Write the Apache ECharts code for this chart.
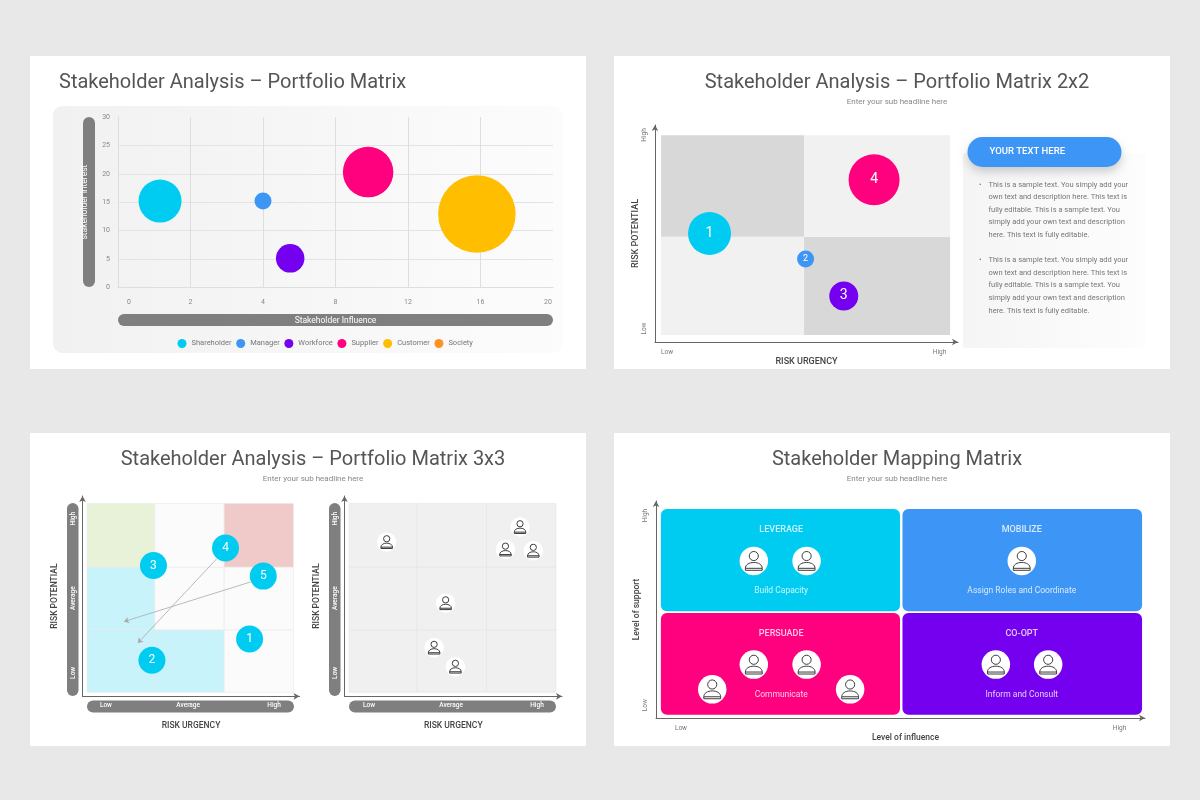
<!DOCTYPE html>
<html>
<head>
<meta charset="utf-8">
<title>Stakeholder Analysis</title>
<style>
    html, body { margin: 0; padding: 0; background: #e9e8e9; }
    #main { width: 1200px; height: 800px; }
</style>
<script src="https://cdn.jsdelivr.net/npm/echarts@6/dist/echarts.min.js"></script>
</head>
<body>
<div id="main"></div>
<script>
// panel 1 - portfolio bubbles
var p1Names = ['Shareholder', 'Manager', 'Workforce', 'Supplier', 'Customer', 'Society'];
var p1Influence = [1.16, 4, 5.5, 9.8, 15.8];
var p1Interest = [15.2, 15.2, 5.1, 20.3, 12.9];
var p1Weight = [8.6, 3.4, 5.7, 10.1, 15.5];
var p1XTicks = [0, 2, 4, 8, 12, 16, 20];
var p1YTicks = [0, 5, 10, 15, 20, 25, 30];

// panel 2 - 2x2 matrix
var p2Ids = ['1', '2', '3', '4'];
var p2Urgency = [18, 49.7, 62.3, 72.3];
var p2Potential = [50, 38.2, 21.2, 74.8];
var p2Weight = [8.6, 3.4, 5.8, 10.2];
var p2XEdges = [2, 49.2, 97.4];
var p2YEdges = [3.2, 48.5, 95.3];
var p2Bullets = [
    'This is a sample text. You simply add your',
    'own text and description here. This text is',
    'fully editable. This is a sample text. You',
    'simply add your own text and description',
    'here. This text is fully editable.'
];

// panel 3 - 3x3 matrices
var p3Ids = ['1', '2', '3', '4', '5'];
var p3Urgency = [77, 32, 32.7, 65.9, 83.3];
var p3Potential = [28.6, 18, 65.3, 74, 60];
var p3XEdges = [2.1, 33.3, 65.3, 97.2];
var p3YEdges = [2, 33.2, 64.5, 96.2];
var p3ArrowFrom = [[61.8, 68.6], [77.5, 57.1]];
var p3ArrowTo = [[25.5, 26.6], [19.1, 37.3]];
var p3PeopleX = [19.4, 80.7, 74, 86.8, 46.5, 41.2, 51];
var p3PeopleY = [77, 84.5, 73.3, 72.7, 46.5, 24.3, 14.8];
var p3Levels = ['Low', 'Average', 'High'];

// panel 4 - mapping matrix
var p4Titles = ['LEVERAGE', 'MOBILIZE', 'PERSUADE', 'CO-OPT'];
var p4Subs = ['Build Capacity', 'Assign Roles and Coordinate', 'Communicate', 'Inform and Consult'];
var p4TileX = [[1, 49.9], [50.4, 99.4], [1, 49.9], [50.4, 99.4]];
var p4TileY = [[49.2, 96.3], [49.2, 96.3], [1.5, 48.4], [1.5, 48.4]];
var p4LabelX = [25.6, 74.8, 25.6, 74.8];
var p4TitleY = [86.9, 86.9, 38.6, 38.6];
var p4SubY = [58.8, 58.8, 10.7, 10.7];
var p4PeopleX = [20, 30.8, 74.8, 20, 30.8, 11.5, 39.7, 69.5, 80.2];
var p4PeopleY = [72.4, 72.4, 72.4, 24.6, 24.6, 13.2, 13.2, 24.6, 24.6];
var p4PeopleTile = [0, 0, 1, 2, 2, 2, 2, 3, 3];

var CYAN = '#00ccf2', BLUE = '#3d96f5', PURPLE = '#7500f0', PINK = '#ff007f', AMBER = '#ffbf00', ORANGE = '#ff9222';
var FONT = 'Roboto';
var GREY_PILL = '#7f7f7f';
var PERSON = 'path://M12 2.5A4.6 4.6 0 1 1 11.99 2.5ZM3.5 21.5V19.5C3.5 15.8 7.2 13.6 12 13.6C16.8 13.6 20.5 15.8 20.5 19.5V21.5ZM3.5 19.5H20.5';

var myChart = echarts.init(document.getElementById('main'));

function cellSeries(name, xi, yi, xEdges, yEdges, colors, stroke) {
    // 每个格子由边界数组算出, colors 按从左下到右上
    var cells = [];
    for (var r = 0; r < yEdges.length - 1; r++) {
        for (var c = 0; c < xEdges.length - 1; c++) {
            cells.push([xEdges[c], yEdges[r], xEdges[c + 1], yEdges[r + 1], cells.length]);
        }
    }
    return {
        name: name,
        type: 'custom',
        xAxisIndex: xi,
        yAxisIndex: yi,
        silent: true,
        z: 1,
        encode: { x: [0, 2], y: [1, 3] },
        data: cells,
        renderItem: function(params, api) {
            var a = api.coord([api.value(0), api.value(3)]);
            var b = api.coord([api.value(2), api.value(1)]);
            return {
                type: 'rect',
                shape: { x: a[0], y: a[1], width: b[0] - a[0], height: b[1] - a[1] },
                style: { fill: colors[api.value(4)], stroke: stroke || 'none', lineWidth: 0.6 }
            };
        }
    };
}

function tileSeries(xi, yi) {
    var tiles = p4TileX.map(function(x, i) {
        return [x[0], p4TileY[i][0], x[1], p4TileY[i][1], i];
    });
    var colors = [CYAN, BLUE, PINK, PURPLE];
    return {
        type: 'custom',
        xAxisIndex: xi,
        yAxisIndex: yi,
        silent: true,
        z: 1,
        encode: { x: [0, 2], y: [1, 3] },
        data: tiles,
        renderItem: function(params, api) {
            var a = api.coord([api.value(0), api.value(3)]);
            var b = api.coord([api.value(2), api.value(1)]);
            return {
                type: 'rect',
                shape: { x: a[0], y: a[1], width: b[0] - a[0], height: b[1] - a[1], r: 6 },
                style: { fill: colors[api.value(4)] }
            };
        }
    };
}

function bubbles(xs, ys, weights, ids, color, xi, yi, fontSize) {
    return {
        type: 'scatter',
        xAxisIndex: xi,
        yAxisIndex: yi,
        z: 5,
        data: xs.map(function(x, i) { return [x, ys[i], weights[i], ids[i]]; }),
        symbolSize: function(v) { return v[2] * 5; },
        itemStyle: {
            color: Array.isArray(color) ? function(p) { return color[p.dataIndex]; } : color,
            opacity: 1
        },
        label: {
            show: true,
            position: 'inside',
            color: '#fff',
            fontFamily: FONT,
            fontSize: fontSize,
            formatter: function(p) { return p.value[3]; }
        }
    };
}

function people(xs, ys, size, colorOf, xi, yi) {
    var pts = xs.map(function(x, i) { return [x, ys[i]]; });
    return [{
        type: 'scatter',
        xAxisIndex: xi,
        yAxisIndex: yi,
        z: 6,
        silent: true,
        data: pts,
        symbolSize: size,
        itemStyle: { color: '#fff', opacity: 1 }
    }, {
        type: 'scatter',
        xAxisIndex: xi,
        yAxisIndex: yi,
        z: 7,
        silent: true,
        data: pts,
        symbol: PERSON,
        symbolKeepAspect: true,
        symbolSize: size * 0.66,
        itemStyle: {
            color: 'rgba(255,255,255,0)',
            opacity: 1,
            borderWidth: 1,
            borderColor: function(p) { return colorOf(p.dataIndex); }
        }
    }];
}

function tileText(ys, names, size, weight) {
    return {
        type: 'scatter',
        xAxisIndex: 4,
        yAxisIndex: 4,
        z: 4,
        silent: true,
        symbolSize: 0,
        data: p4LabelX.map(function(x, i) { return [x, ys[i], names[i]]; }),
        label: {
            show: true,
            position: 'inside',
            color: '#fff',
            fontFamily: FONT,
            fontSize: size,
            fontWeight: weight,
            formatter: function(p) { return p.value[2]; }
        }
    };
}

// 矩阵的坐标轴: 箭头 + Low/High 文字
function matrixAxis(grid, dim, ticks, names, axisName, opt) {
    var isY = dim === 'y';
    return {
        type: 'value',
        gridIndex: grid,
        min: 0,
        max: 100,
        name: axisName,
        nameLocation: 'middle',
        nameGap: opt.nameGap,
        nameTextStyle: {
            fontFamily: FONT,
            fontSize: opt.nameSize || 9,
            fontWeight: 500,
            color: '#444',
            padding: opt.namePad || 0
        },
        axisLine: {
            show: true,
            symbol: ['none', 'arrow'],
            symbolSize: [5, 6],
            lineStyle: { color: '#666', width: 1 }
        },
        axisTick: { show: false },
        splitLine: { show: false },
        axisLabel: {
            show: true,
            customValues: ticks,
            margin: opt.margin,
            rotate: isY ? 90 : 0,
            fontFamily: FONT,
            fontSize: opt.labelSize || 6.5,
            fontWeight: opt.labelColor ? 500 : 400,
            color: opt.labelColor || '#777',
            formatter: function(v) { return names[ticks.indexOf(v)]; }
        }
    };
}

function titleOf(text, sub, x, y, align) {
    return {
        text: text,
        subtext: sub,
        left: x,
        top: y,
        textAlign: align,
        itemGap: 5,
        textStyle: { fontFamily: FONT, fontSize: 20, fontWeight: 400, color: '#555' },
        subtextStyle: { fontFamily: FONT, fontSize: 8, color: '#888' }
    };
}

function box(x, y, w, h, r, fill, z, extra) {
    var style = { fill: fill };
    if (extra) { for (var k in extra) style[k] = extra[k]; }
    return { type: 'rect', silent: true, shape: { x: x, y: y, width: w, height: h, r: r }, style: style, z: z };
}

function word(text, x, y, font, fill, align) {
    return {
        type: 'text',
        silent: true,
        x: x,
        y: y,
        z: 3,
        style: { text: text, font: font, fill: fill, textAlign: align || 'left', textVerticalAlign: 'middle' }
    };
}

function decorations() {
    var list = [
        box(30, 56, 556, 313, 0, '#fff', -9),
        box(614, 56, 556, 313, 0, '#fff', -9),
        box(30, 433, 556, 313, 0, '#fff', -9),
        box(614, 433, 556, 313, 0, '#fff', -9),
        // panel 1
        box(53, 106, 509, 247, 9, new echarts.graphic.LinearGradient(0, 0, 1, 0, [
            { offset: 0, color: '#f1f1f1' }, { offset: 1, color: '#fcfcfc' }
        ]), -8),
        box(83, 117, 12, 170, 6, GREY_PILL, -7),
        box(118, 314, 435, 12, 6, GREY_PILL, -7),
        // panel 2 text card
        box(963, 153, 183, 195, 3, new echarts.graphic.LinearGradient(0, 0, 1, 0, [
            { offset: 0, color: '#f5f5f5' }, { offset: 1, color: '#fdfdfd' }
        ]), -8),
        box(967.5, 137, 154, 30, 15, BLUE, 2, {
            shadowBlur: 10, shadowOffsetY: 5, shadowColor: 'rgba(0,0,0,0.18)'
        }),
        word('YOUR TEXT HERE', 989.5, 152, '500 9.5px Roboto', '#fff'),
        // panel 3 pills
        box(67, 503, 11.5, 193, 6, GREY_PILL, -7),
        box(87, 700.5, 207, 12, 6, GREY_PILL, -7),
        box(329, 503, 11.5, 193, 6, GREY_PILL, -7),
        box(349, 700.5, 207, 12, 6, GREY_PILL, -7)
    ];
    [184.7, 260.3].forEach(function(top) {
        list.push(word('•', 979, top, '7.5px Roboto', '#777'));
        p2Bullets.forEach(function(line, i) {
            list.push(word(line, 988.5, top + i * 12.6, '7.5px Roboto', '#777'));
        });
    });
    return list;
}

function pillLabel(names) {
    return names;
}

var option = {
    backgroundColor: '#e9e8e9',
    animation: false,
    title: [
        titleOf('Stakeholder Analysis – Portfolio Matrix', '', 54, 68, 'left'),
        titleOf('Stakeholder Analysis – Portfolio Matrix 2x2', 'Enter your sub headline here', 892, 68, 'center'),
        titleOf('Stakeholder Analysis – Portfolio Matrix 3x3', 'Enter your sub headline here', 308, 445, 'center'),
        titleOf('Stakeholder Mapping Matrix', 'Enter your sub headline here', 892, 445, 'center')
    ],
    legend: {
        left: 172.5,
        top: 334,
        icon: 'circle',
        itemWidth: 9,
        itemHeight: 9,
        itemGap: 4.6,
        selectedMode: false,
        data: p1Names,
        formatter: '{n|{name}}',
        textStyle: {
            rich: { n: { width: 36, fontFamily: FONT, fontSize: 7.5, color: '#777' } }
        }
    },
    grid: [
        { left: 118, top: 117, width: 435, height: 170.3 },
        { left: 655, top: 125, width: 303, height: 217 },
        { left: 82.5, top: 496, width: 217, height: 200.3 },
        { left: 344.5, top: 496, width: 217.5, height: 200.3 },
        { left: 656, top: 501, width: 489, height: 217 }
    ],
    xAxis: [
        {
            type: 'value',
            gridIndex: 0,
            min: 0,
            max: p1XTicks.length - 1,
            interval: 1,
            name: 'Stakeholder Influence',
            nameLocation: 'middle',
            nameGap: 29,
            nameTextStyle: { fontFamily: FONT, fontSize: 8.5, color: '#fff' },
            axisLine: { show: true, lineStyle: { color: '#dedede', width: 1 } },
            axisTick: { show: false },
            splitLine: { show: true, showMaxLine: false, lineStyle: { color: '#dedede', width: 1 } },
            axisLabel: {
                margin: 11,
                formatter: function(v, i) {
                    if (i === 0) return '{first|' + p1XTicks[v] + '}';
                    if (i === p1XTicks.length - 1) return '{last|' + p1XTicks[v] + '}';
                    return '{mid|' + p1XTicks[v] + '}';
                },
                rich: {
                    first: { fontFamily: FONT, fontSize: 7, color: '#888', padding: [0, 0, 0, 22] },
                    last: { fontFamily: FONT, fontSize: 7, color: '#888', padding: [0, 10, 0, 0] },
                    mid: { fontFamily: FONT, fontSize: 7, color: '#888' }
                }
            }
        },
        matrixAxis(1, 'x', [4, 93.9], ['Low', 'High'], 'RISK URGENCY', { nameGap: 10, margin: 7 }),
        matrixAxis(2, 'x', [10.8, 48.7, 88.3], p3Levels, 'RISK URGENCY', { nameGap: 25, margin: 6, labelColor: '#fff', nameSize: 8.5 }),
        matrixAxis(3, 'x', [11.3, 49, 88.5], p3Levels, 'RISK URGENCY', { nameGap: 25, margin: 6, labelColor: '#fff', nameSize: 8.5 }),
        matrixAxis(4, 'x', [5.1, 94.8], ['Low', 'High'], 'Level of influence', { nameGap: 10.5, margin: 7, namePad: [0, 0, 0, 10], nameSize: 8.5 })
    ],
    yAxis: [
        {
            type: 'value',
            gridIndex: 0,
            min: 0,
            max: 30,
            interval: 5,
            name: 'stakeholder interest',
            nameLocation: 'middle',
            nameGap: 29,
            nameTextStyle: { fontFamily: FONT, fontSize: 8.5, color: '#fff' },
            axisLine: { show: true, lineStyle: { color: '#dedede', width: 1 } },
            axisTick: { show: false },
            splitLine: { show: true, showMaxLine: false, lineStyle: { color: '#e3e3e3', width: 1 } },
            axisLabel: {
                margin: 8,
                fontFamily: FONT,
                fontSize: 7,
                color: '#888',
                formatter: function(v) { return p1YTicks[v / 5]; }
            }
        },
        matrixAxis(1, 'y', [95.4, 6.2], ['High', 'Low'], 'RISK POTENTIAL', { nameGap: 10, margin: 7 }),
        matrixAxis(2, 'y', [11.7, 49, 88.7], p3Levels, 'RISK POTENTIAL', { nameGap: 23.5, margin: 6, labelColor: '#fff', nameSize: 8.5 }),
        matrixAxis(3, 'y', [11.7, 49, 88.7], p3Levels, 'RISK POTENTIAL', { nameGap: 23.5, margin: 6, labelColor: '#fff', nameSize: 8.5 }),
        matrixAxis(4, 'y', [93.3, 5.9], ['High', 'Low'], 'Level of support', { nameGap: 11, margin: 7, nameSize: 8.5 })
    ],
    graphic: { elements: decorations() },
    series: []
};

// panel 1: 一个系列一个气泡, 图例才有颜色
var p1Colors = [CYAN, BLUE, PURPLE, PINK, AMBER, ORANGE];
p1Names.forEach(function(name, i) {
    var s = {
        name: name,
        type: 'scatter',
        xAxisIndex: 0,
        yAxisIndex: 0,
        z: 5,
        color: p1Colors[i],
        symbolSize: function(v) { return v[2] * 5; },
        itemStyle: { opacity: 1 },
        data: []
    };
    if (i < p1Influence.length) {
        // x 轴刻度不等距, 先换算成刻度序号
        var v = p1Influence[i], k = 0;
        while (k < p1XTicks.length - 2 && v > p1XTicks[k + 1]) k++;
        var pos = k + (v - p1XTicks[k]) / (p1XTicks[k + 1] - p1XTicks[k]);
        s.data = [[pos, p1Interest[i], p1Weight[i]]];
    }
    option.series.push(s);
});

// panel 2
option.series.push(cellSeries('p2 cells', 1, 1, p2XEdges, p2YEdges, ['#f1f1f1', '#d8d8d8', '#d8d8d8', '#f1f1f1']));
var b2 = bubbles(p2Urgency, p2Potential, p2Weight, p2Ids, [CYAN, BLUE, PURPLE, PINK], 1, 1, 14);
b2.label.fontSize = function() { return 14; };
b2.label.fontSize = 14;
b2.data[1] = { value: b2.data[1], label: { fontSize: 9 } };
option.series.push(b2);

// panel 3 left
option.series.push(cellSeries('p3 cells', 2, 2, p3XEdges, p3YEdges, [
    '#c9f3fb', '#c9f3fb', '#fbfbfb',
    '#c9f3fb', '#fbfbfb', '#fbfbfb',
    '#e7f2d9', '#fbfbfb', '#f0c9c9'
], '#e9e9e9'));
option.series.push(bubbles(p3Urgency, p3Potential, [5.4, 5.4, 5.4, 5.4, 5.4], p3Ids, CYAN, 2, 2, 12));
option.series.push({
    type: 'lines',
    coordinateSystem: 'cartesian2d',
    xAxisIndex: 2,
    yAxisIndex: 2,
    z: 4,
    silent: true,
    symbol: ['none', 'arrow'],
    symbolSize: 5,
    lineStyle: { color: '#aaa', width: 0.8, opacity: 1 },
    data: p3ArrowFrom.map(function(from, i) {
        return { coords: [from, p3ArrowTo[i]] };
    })
});

// panel 3 right
option.series.push(cellSeries('p3 grey cells', 3, 3, [2.1, 33.4, 65.3, 97.2], p3YEdges, [
    '#f0f0f0', '#f0f0f0', '#f0f0f0',
    '#f0f0f0', '#f0f0f0', '#f0f0f0',
    '#f0f0f0', '#f0f0f0', '#f0f0f0'
], '#e4e4e4'));
option.series = option.series.concat(people(p3PeopleX, p3PeopleY, 19.5, function() { return CYAN; }, 3, 3));

// panel 4
var tileColors = [CYAN, BLUE, PINK, PURPLE];
option.series.push(tileSeries(4, 4));
option.series.push(tileText(p4TitleY, p4Titles, 9, 500));
option.series.push(tileText(p4SubY, p4Subs, 8.5, 400));
option.series = option.series.concat(people(p4PeopleX, p4PeopleY, 28.5, function(i) {
    return tileColors[p4PeopleTile[i]];
}, 4, 4));

myChart.setOption(option);
</script>
</body>
</html>
